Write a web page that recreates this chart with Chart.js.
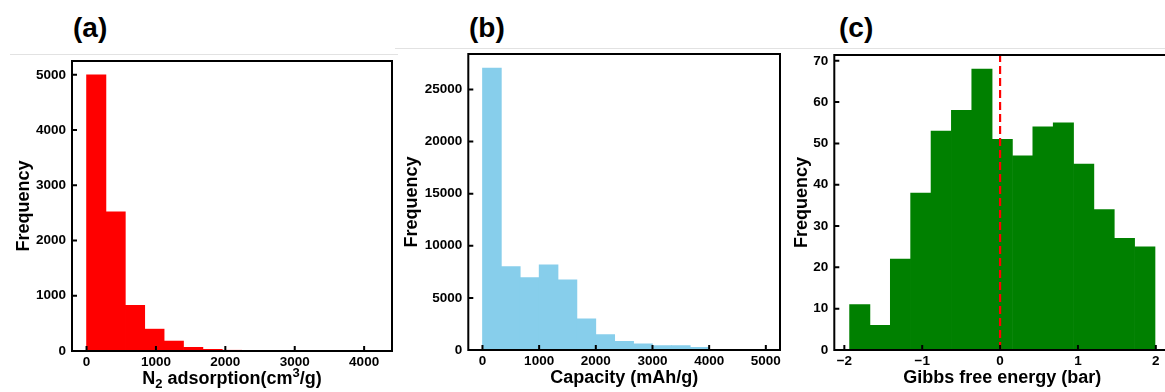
<!DOCTYPE html>
<html>
<head>
<meta charset="utf-8">
<script src="https://cdn.jsdelivr.net/npm/chart.js@4.4.1/dist/chart.umd.min.js"></script>
<style>
  html, body { margin: 0; padding: 0; background: #fff; }
  body { width: 1165px; height: 392px; position: relative; overflow: hidden; font-family: "Liberation Sans", Arial, sans-serif; }
  canvas { position: absolute; top: 0; }
  .tag { position: absolute; top: 13.7px; font: bold 28px/1 "Liberation Sans", Arial, sans-serif; color: #000; }
  .rule { position: absolute; height: 1px; background: #e2e2e2; }
</style>
</head>
<body>
<div class="rule" style="left:10px; top:54px; width:388px;"></div>
<div class="rule" style="left:395px; top:48px; width:400px;"></div>
<div class="rule" style="left:780px; top:48px; width:385px;"></div>
<div class="tag" style="left:73px;">(a)</div>
<div class="tag" style="left:469px;">(b)</div>
<div class="tag" style="left:839px;">(c)</div>

<canvas id="chartA" width="400" height="392" style="left:0px"></canvas>
<canvas id="chartB" width="390" height="392" style="left:400px"></canvas>
<canvas id="chartC" width="400" height="392" style="left:790px"></canvas>

<script>
// (a) N2 adsorption histogram
const binsA = [139.7, 419.2, 698.7, 978.1, 1257.6, 1537.1, 1816.5, 2096.0, 2375.5, 2654.9, 2934.4, 3213.9, 3493.3, 3772.8, 4052.3];
const countsA = [5000, 2520, 828, 396, 180, 66, 30, 14, 6, 3, 2, 1, 1, 1, 1];
const xTicksA = [0, 1000, 2000, 3000, 4000];
const yTicksA = [0, 1000, 2000, 3000, 4000, 5000];

// (b) capacity histogram
const binsB = [166.7, 500.0, 833.3, 1166.7, 1500.0, 1833.3, 2166.7, 2500.0, 2833.3, 3166.7, 3500.0, 3833.3, 4166.7, 4500.0, 4833.3];
const countsB = [27050, 8010, 6950, 8170, 6730, 2980, 1470, 840, 580, 430, 420, 260, 40, 15, 8];
const xTicksB = [0, 1000, 2000, 3000, 4000, 5000];
const yTicksB = [0, 5000, 10000, 15000, 20000, 25000];

// (c) Gibbs free energy histogram
const binsC = [-1.802, -1.541, -1.279, -1.018, -0.756, -0.495, -0.233, 0.028, 0.290, 0.551, 0.813, 1.074, 1.336, 1.597, 1.859];
const countsC = [11, 6, 22, 38, 53, 58, 68, 51, 47, 54, 55, 45, 34, 27, 25];
const xTicksC = [-2, -1, 0, 1, 2];
const yTicksC = [0, 10, 20, 30, 40, 50, 60, 70];
const refLineC = 0;

// x title of (a) with sub/superscript pieces: [text, shift] (shift: 0 normal, 1 sub, -1 sup)
const xTitleA = [['N', 0], ['2', 1], [' adsorption(cm', 0], ['3', -1], ['/g)', 0]];

const FONT = '"Liberation Sans", Arial, sans-serif';

// box around the plot area plus short inward tick marks
const framePlugin = {
    id: 'frame',
    afterDatasetsDraw(chart) {
        const { ctx, chartArea: a, scales: { x, y } } = chart;
        ctx.save();
        ctx.strokeStyle = '#000';
        ctx.lineWidth = 2;
        ctx.beginPath();
        x.ticks.forEach(t => {
            const px = x.getPixelForValue(t.value);
            ctx.moveTo(px, a.bottom);
            ctx.lineTo(px, a.bottom - 5);
        });
        y.ticks.forEach(t => {
            const py = y.getPixelForValue(t.value);
            ctx.moveTo(a.left, py);
            ctx.lineTo(a.left + 5, py);
        });
        ctx.stroke();
        ctx.strokeRect(a.left, a.top, a.right - a.left, a.bottom - a.top);
        ctx.restore();
    }
};

// rich x-axis title (chart.js titles are plain strings)
const richTitlePlugin = {
    id: 'richTitle',
    afterDraw(chart, args, opts) {
        if (!opts.pieces) return;
        const { ctx, chartArea: a } = chart;
        const big = 'bold 18px ' + FONT, small = 'bold 13px ' + FONT;
        ctx.save();
        ctx.fillStyle = '#000';
        ctx.textBaseline = 'alphabetic';
        let total = 0;
        opts.pieces.forEach(([t, s]) => { ctx.font = s ? small : big; total += ctx.measureText(t).width; });
        let x = (a.left + a.right) / 2 - total / 2;
        const base = opts.baseline;
        opts.pieces.forEach(([t, s]) => {
            ctx.font = s ? small : big;
            ctx.fillText(t, x, base + (s === 1 ? 4 : s === -1 ? -7 : 0));
            x += ctx.measureText(t).width;
        });
        ctx.restore();
    }
};

function makeHist(canvasId, cfg) {
    const datasets = [{
        type: 'bar',
        data: cfg.bins.map((b, i) => ({ x: b, y: cfg.counts[i] })),
        backgroundColor: cfg.color,
        borderWidth: 0,
        barPercentage: 1,
        categoryPercentage: 1,
        order: 1
    }];
    if (cfg.extra) datasets.unshift(cfg.extra);

    return new Chart(document.getElementById(canvasId), {
        data: { datasets },
        plugins: [framePlugin, richTitlePlugin],
        options: {
            responsive: false,
            animation: false,
            events: [],
            layout: { padding: { top: cfg.top, right: cfg.right, left: 0, bottom: 0 } },
            plugins: {
                legend: { display: false },
                tooltip: { enabled: false },
                richTitle: { pieces: cfg.richTitle || null, baseline: 384 }
            },
            scales: {
                x: {
                    type: 'linear',
                    offset: false,
                    min: cfg.xMin,
                    max: cfg.xMax,
                    afterBuildTicks: s => { s.ticks = cfg.xTicks.map(v => ({ value: v })); },
                    afterFit: s => { s.height = cfg.xAxisH; },
                    grid: { display: false, drawTicks: false, offset: false },
                    border: { display: false },
                    ticks: {
                        padding: 3,
                        maxRotation: 0,
                        autoSkip: false,
                        color: '#000',
                        font: { family: FONT, size: 13.5, weight: 'bold' },
                        callback: v => String(v).replace('-', '\u2212')
                    },
                    title: {
                        display: !cfg.richTitle,
                        text: cfg.xTitle,
                        color: '#000',
                        padding: { top: 0, bottom: 3.5 },
                        font: { family: FONT, size: 18, weight: 'bold' }
                    }
                },
                y: {
                    type: 'linear',
                    min: 0,
                    max: cfg.yMax,
                    afterBuildTicks: s => { s.ticks = cfg.yTicks.map(v => ({ value: v })); },
                    afterFit: s => { s.width = cfg.yAxisW; },
                    grid: { display: false, drawTicks: false },
                    border: { display: false },
                    ticks: {
                        padding: 6,
                        autoSkip: false,
                        color: '#000',
                        font: { family: FONT, size: 13.5, weight: 'bold' },
                        callback: v => String(v)
                    },
                    title: {
                        display: true,
                        text: 'Frequency',
                        color: '#000',
                        padding: { top: cfg.yTitlePad, bottom: 0 },
                        font: { family: FONT, size: 18, weight: 'bold' }
                    }
                }
            }
        }
    });
}

makeHist('chartA', {
    bins: binsA, counts: countsA, color: '#ff0000',
    xTicks: xTicksA, yTicks: yTicksA,
    xMin: -209.6, xMax: 4401.6, yMax: 5250,
    xTitle: 'N2 adsorption(cm3/g)', richTitle: xTitleA,
    top: 61, right: 8, yAxisW: 72, xAxisH: 41, yTitlePad: 13.6
});

makeHist('chartB', {
    bins: binsB, counts: countsB, color: '#87ceeb',
    xTicks: xTicksB, yTicks: yTicksB,
    xMin: -250, xMax: 5250, yMax: 28400,
    xTitle: 'Capacity (mAh/g)',
    top: 54, right: 10, yAxisW: 68.3, xAxisH: 42, yTitlePad: 1.2
});

makeHist('chartC', {
    bins: binsC, counts: countsC, color: '#008000',
    xTicks: xTicksC, yTicks: yTicksC,
    xMin: -2.129, xMax: 2.186, yMax: 71.4,
    xTitle: 'Gibbs free energy (bar)',
    top: 55, right: 19.7, yAxisW: 44.3, xAxisH: 42, yTitlePad: 1.2,
    extra: {
        type: 'line',
        data: [{ x: refLineC, y: 0 }, { x: refLineC, y: 71.4 }],
        borderColor: '#ff0000',
        borderWidth: 2.2,
        borderDash: [8, 4],
        pointRadius: 0,
        fill: false,
        order: 0
    }
});
</script>
</body>
</html>
